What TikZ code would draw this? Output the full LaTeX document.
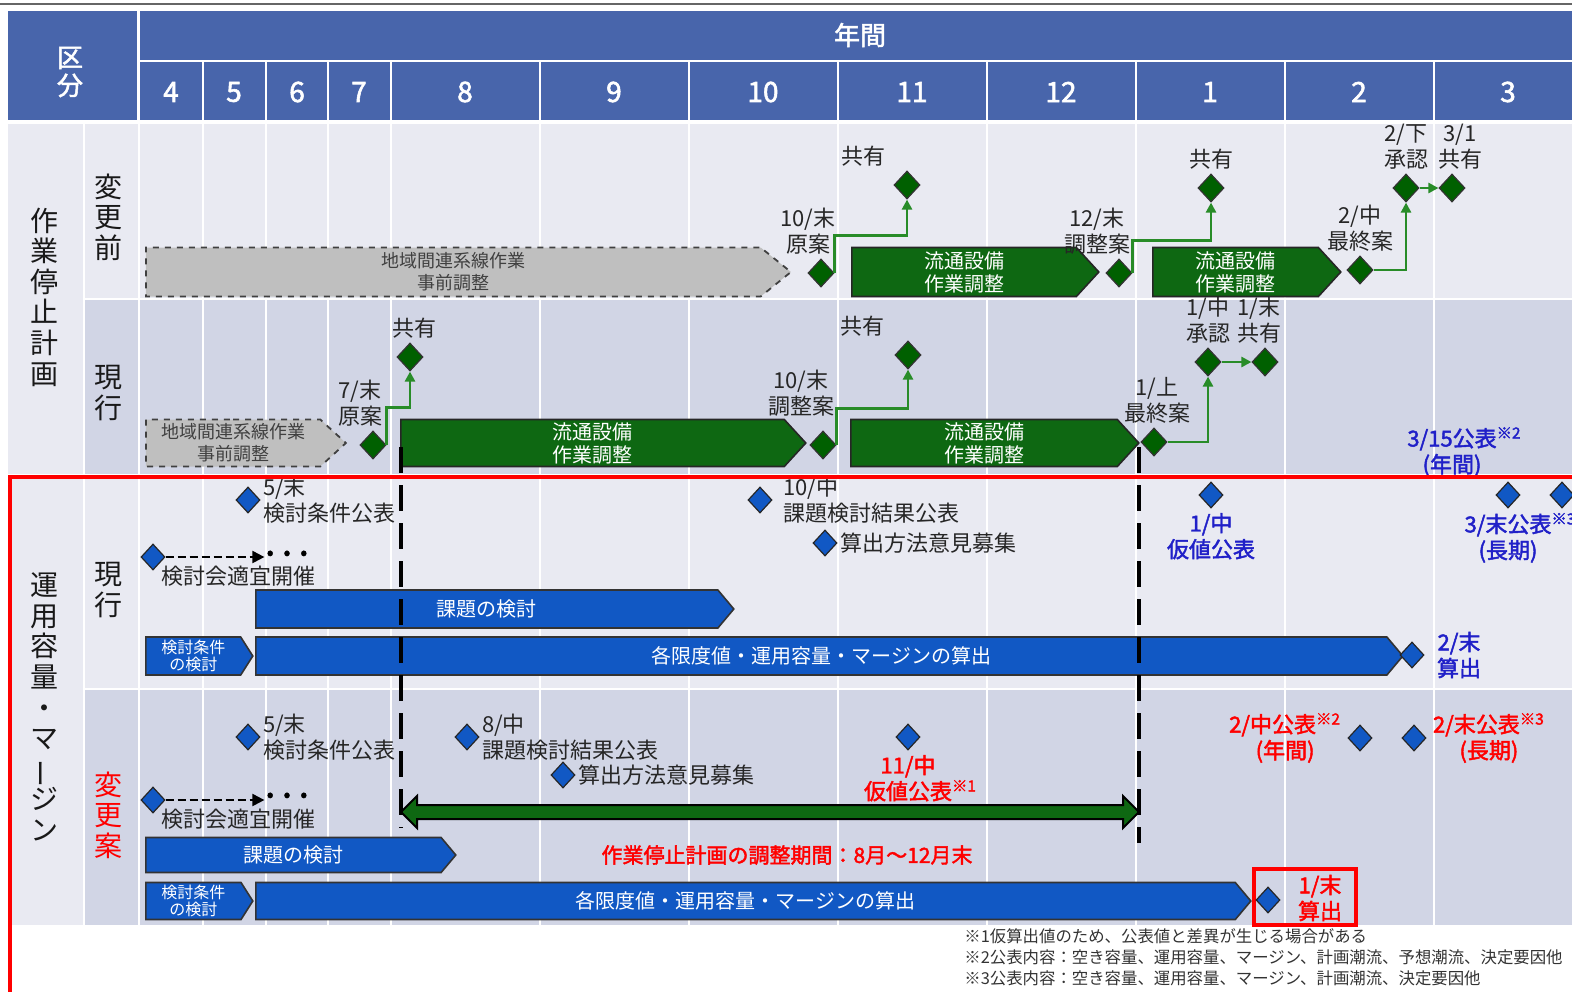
\documentclass[tikz,border=0pt]{standalone}
\usepackage{fontspec}
\setmainfont{Noto Sans CJK JP}[AutoFakeBold=2]
\usepackage{graphicx}
\usetikzlibrary{shapes.geometric,shapes.symbols,arrows.meta}

\definecolor{hdrblue}{RGB}{72,101,171}
\definecolor{rowlight}{RGB}{233,234,242}
\definecolor{rowdark}{RGB}{209,213,229}
\definecolor{boxgreen}{RGB}{14,104,18}
\definecolor{diagreen}{RGB}{0,96,0}
\definecolor{linegreen}{RGB}{40,140,40}
\definecolor{boxblue}{RGB}{17,88,196}
\definecolor{txtblue}{RGB}{32,32,200}
\definecolor{boxgray}{RGB}{191,191,191}

\tikzset{
  hdr/.style={text=white, font=\bfseries\fontsize{14}{16}\selectfont, align=center, inner sep=0pt},
  vtxt/.style={text=black!90, font=\fontsize{14}{15.3}\selectfont, align=center, inner sep=0pt},
  graybox/.style={signal, signal to=east, signal pointer angle=85, draw=black!75, dashed, line width=0.9pt, fill=boxgray, text=black!75, font=\fontsize{9}{11}\selectfont, align=center, minimum height=24.5pt, inner sep=1pt, anchor=west},
  greenbox/.style={signal, signal to=east, signal pointer angle=95, draw=black!85, line width=0.8pt, fill=boxgreen, text=white, font=\fontsize{10}{11.5}\selectfont, align=center, minimum height=24.5pt, inner sep=1pt, anchor=west},
  bluebox/.style={signal, signal to=east, signal pointer angle=100, draw=black!80, line width=0.8pt, fill=boxblue, text=white, font=\fontsize{10}{12}\selectfont, align=center, minimum height=19pt, inner sep=1pt, anchor=west},
  smallbox/.style={bluebox, signal pointer angle=115, font=\fontsize{8}{8.5}\selectfont, inner sep=0.5pt},
  gdia/.style={diamond, draw=black!80, line width=0.6pt, fill=diagreen, minimum width=13pt, minimum height=14pt, inner sep=0pt},
  bdia/.style={diamond, draw=black!85, line width=0.6pt, fill=boxblue, minimum width=12pt, minimum height=13pt, inner sep=0pt},
  dotsnode/.style={font=\bfseries\fontsize{10}{10}\selectfont, inner sep=1pt},
  gline/.style={draw=linegreen, line width=1.3pt, -{Triangle[length=5pt,width=5pt]}},
  dline/.style={draw=black, line width=1pt, dash pattern=on 4pt off 2pt, -{Triangle[length=6pt,width=6pt]}},
  vdash/.style={draw=black, line width=2.3pt, dash pattern=on 13pt off 6pt},
  btxt/.style={text=txtblue, font=\bfseries\fontsize{11}{13}\selectfont, align=center, inner sep=1pt},
  rtxt/.style={text=red, font=\bfseries\fontsize{11}{13}\selectfont, align=center, inner sep=1pt}
}

\begin{document}
\begin{tikzpicture}[x=0.5pt, y=-0.5pt, every label/.style={text=black!85, font=\fontsize{11}{13}\selectfont, align=center, inner sep=1pt}, label distance=1pt]
\clip (0,0) rectangle (1572,991);
\draw[black!60, line width=0.8pt] (0,4) -- (1572,4);

\fill[hdrblue] (8,11) rectangle (137,120);
\fill[hdrblue] (140,11) rectangle (1572,120);
\draw[white, line width=1pt] (140,61) -- (1572,61);
\foreach \x in {203,266,328,391,540,689,838,987,1136,1285,1434}
  \draw[white, line width=1pt] (\x,61) -- (\x,120);

\fill[rowlight] (8,124) rectangle (83,474);
\fill[rowlight] (85,124) rectangle (1572,298);
\fill[rowdark] (85,300) rectangle (1572,474);
\fill[rowlight] (8,478) rectangle (83,925);
\fill[rowlight] (85,478) rectangle (1572,688);
\fill[rowdark] (85,690) rectangle (1572,925);
\foreach \x in {139,203,266,328,391,540,689,838,987,1136,1285,1434}
  \draw[white, line width=1pt] (\x,124) -- (\x,925);

\node[hdr, font=\bfseries\fontsize{13}{14}\selectfont] (kubun) at (70,72) {区\\分};
\node[hdr, font=\bfseries\fontsize{13}{15}\selectfont] (nenkan) at (860,35) {年間};
\foreach \m/\x in {4/171,5/234,6/297,7/359,8/465,9/614,10/763,11/912,12/1061,1/1210,2/1359,3/1508}
  \node[hdr] (m\m) at (\x,92) {\m};

\node[vtxt] (sagyo) at (45,297) {作\\業\\停\\止\\計\\画};
\node[vtxt] (henmae) at (108,217) {変\\更\\前};
\node[vtxt] (genko1) at (108,393) {現\\行};
\node[vtxt] (unyo) at (45,707) {運\\用\\容\\量\\・\\マ\\\rotatebox[origin=c]{90}{ー}\\ジ\\ン};
\node[vtxt] (genko2) at (108,590) {現\\行};
\node[vtxt, text=red] (henan) at (108,815) {変\\更\\案};

\node[graybox, minimum width=322.5pt, signal pointer angle=78] (pre1) at (145,272) {地域間連系線作業\\事前調整};
\node[greenbox, minimum width=123.5pt] (gw1) at (851,272) {流通設備\\作業調整};
\node[greenbox, minimum width=94pt] (gw2) at (1152,272) {流通設備\\作業調整};
\node[gdia, label={[xshift=-6.5pt]above:{10/末\\原案}}] (gd1) at (821,273) {};
\node[gdia, label={[xshift=-22pt]above:{共有}}] (gs1) at (907,185) {};
\node[gdia, label={[xshift=-11pt]above:{12/末\\調整案}}] (gd2) at (1119,273) {};
\node[gdia, label={above:{共有}}] (gs2) at (1211,188) {};
\node[gdia, label={above:{2/中\\最終案}}] (gd3) at (1360,270) {};
\node[gdia, label={above:{2/下\\承認}}] (gp1) at (1406,188) {};
\node[gdia, label={[xshift=4pt]above:{3/1\\共有}}] (gs3) at (1452,188) {};
\draw[gline] (gd1.east) |- ([yshift=-18pt]gs1.south) -- (gs1.south);
\draw[gline] (gd2.east) |- ([yshift=-19pt]gs2.south) -- (gs2.south);
\draw[gline] (gd3.east) -| (gp1.south);
\draw[gline] (gp1) -- (gs3);

\node[graybox, minimum width=100pt, minimum height=23.5pt] (pre2) at (145,443) {地域間連系線作業\\事前調整};
\node[greenbox, minimum width=202.5pt, minimum height=23.5pt] (gw3) at (400,443) {流通設備\\作業調整};
\node[greenbox, minimum width=144pt, minimum height=23.5pt] (gw4) at (850,443) {流通設備\\作業調整};
\node[gdia, label={[xshift=-6.5pt]above:{7/末\\原案}}] (gd4) at (373,445) {};
\node[gdia, label={[xshift=2pt]above:{共有}}] (gs4) at (410,357) {};
\node[gdia, label={[xshift=-11pt, yshift=5pt]above:{10/末\\調整案}}] (gd5) at (823,445) {};
\node[gdia, label={[xshift=-23pt]above:{共有}}] (gs5) at (908,355) {};
\node[gdia, label={[xshift=1.5pt]above:{1/上\\最終案}}] (gd6) at (1154,442) {};
\node[gdia, label={above:{1/中\\承認}}] (gp2) at (1208,362) {};
\node[gdia, label={[xshift=-3pt]above:{1/末\\共有}}] (gs6) at (1265,362) {};
\draw[gline] (gd4.east) |- ([yshift=-18pt]gs4.south) -- (gs4.south);
\draw[gline] (gd5.east) |- ([yshift=-19.5pt]gs5.south) -- (gs5.south);
\draw[gline] (gd6.east) -| (gp2.south);
\draw[gline] (gp2) -- (gs6);
\node[btxt] (t315) at (1452,452) {3/15公表\rlap{\textsuperscript{※2}}\\(年間)};

\node[bdia, label={[align=left, label distance=0pt]right:{5/末\\検討条件公表}}] (bd1) at (248,500) {};
\node[bdia, label={[align=left, label distance=4pt]right:{10/中\\課題検討結果公表}}] (bd2) at (760,500) {};
\node[bdia, label={[label distance=0pt]right:{算出方法意見募集}}] (bd3) at (825,543) {};
\node[bdia, label={[label distance=0pt]below right:{検討会適宜開催}}] (bd4) at (153,557) {};
\node[dotsnode] (dots1) at (287,555) {•\hspace{5pt}•\hspace{5pt}•};
\draw[dline] (bd4.east) -- (dots1.west |- bd4.east);
\node[bdia, label={[btxt]below:{1/中\\仮値公表}}] (bd5) at (1211,495) {};
\node[bdia, label={[btxt]below:{3/末公表\rlap{\textsuperscript{※3}}\\(長期)}}] (bd6) at (1508,495) {};
\node[bdia] (bd7) at (1562,495) {};
\node[bluebox, minimum width=239pt] (bk1) at (255,609) {課題の検討};
\node[smallbox, minimum width=53.5pt] (bj1) at (145,656) {検討条件\\の検討};
\node[bluebox, minimum width=573.5pt] (bc1) at (255,656) {各限度値・運用容量・マージンの算出};
\node[bdia, label={[btxt, label distance=5pt]right:{2/末\\算出}}] (bd8) at (1412,655) {};

\node[bdia, label={[align=left, label distance=0pt]right:{5/末\\検討条件公表}}] (bd9) at (248,737) {};
\node[bdia, label={[align=left, label distance=0pt]right:{8/中\\課題検討結果公表}}] (bd10) at (467,737) {};
\node[bdia, label={[label distance=0pt]right:{算出方法意見募集}}] (bd11) at (563,775) {};
\node[bdia, label={[rtxt]below:{11/中\\仮値公表\rlap{\textsuperscript{※1}}}}] (bd12) at (908,737) {};
\node[bdia, label={[rtxt, label distance=2pt]left:{2/中公表\textsuperscript{※2}\\(年間)}}] (bd13) at (1360,738) {};
\node[bdia, label={[rtxt, label distance=2pt]right:{2/末公表\textsuperscript{※3}\\(長期)}}] (bd14) at (1414,738) {};
\node[bdia, label={[label distance=0pt]below right:{検討会適宜開催}}] (bd15) at (153,800) {};
\node[dotsnode] (dots2) at (287,797) {•\hspace{5pt}•\hspace{5pt}•};
\draw[dline] (bd15.east) -- (dots2.west |- bd15.east);
\coordinate (adjL) at (401,812);
\coordinate (adjR) at (1139,812);
\draw[fill=boxgreen, line width=1pt, line join=miter] (adjL) -- ++(16,-16) -- ++(0,9) -- ([xshift=-8pt,yshift=3.5pt]adjR) -- ++(0,4.5pt) -- (adjR) -- ++(-16,16) -- ++(0,-9) -- ([xshift=8pt,yshift=-3.5pt]adjL) -- ++(0,-4.5pt) -- cycle;
\node[bluebox, minimum width=155pt, minimum height=17.5pt] (bk2) at (145,855) {課題の検討};
\node[rtxt, font=\bfseries\fontsize{10.5}{12}\selectfont] (tadj) at (787,855) {作業停止計画の調整期間：8月～12月末};
\node[smallbox, minimum width=53.5pt, minimum height=18.5pt] (bj2) at (145,901) {検討条件\\の検討};
\node[bluebox, minimum width=497.5pt, minimum height=18.5pt] (bc2) at (255,901) {各限度値・運用容量・マージンの算出};
\node[draw=red, line width=2pt, minimum width=51pt, minimum height=28pt, inner sep=0pt] (hl) at (1305,896.5) {};
\node[bdia] (bd16) at (1268,900) {};
\node[rtxt] (t1e) at (1320,898) {1/末\\算出};

\draw[vdash] (401,447) -- (401,828);
\draw[vdash] (1139,447) -- (1139,843);

\node[anchor=north west, align=left, text=black!80, font=\fontsize{8.2}{10.5}\selectfont, inner sep=0pt] (notes) at (964,928) {※1仮算出値のため、公表値と差異が生じる場合がある\\※2公表内容：空き容量、運用容量、マージン、計画潮流、予想潮流、決定要因他\\※3公表内容：空き容量、運用容量、マージン、計画潮流、決定要因他};

\draw[red, line width=2.2pt] (10,477) rectangle (1620,1030);
\end{tikzpicture}
\end{document}
